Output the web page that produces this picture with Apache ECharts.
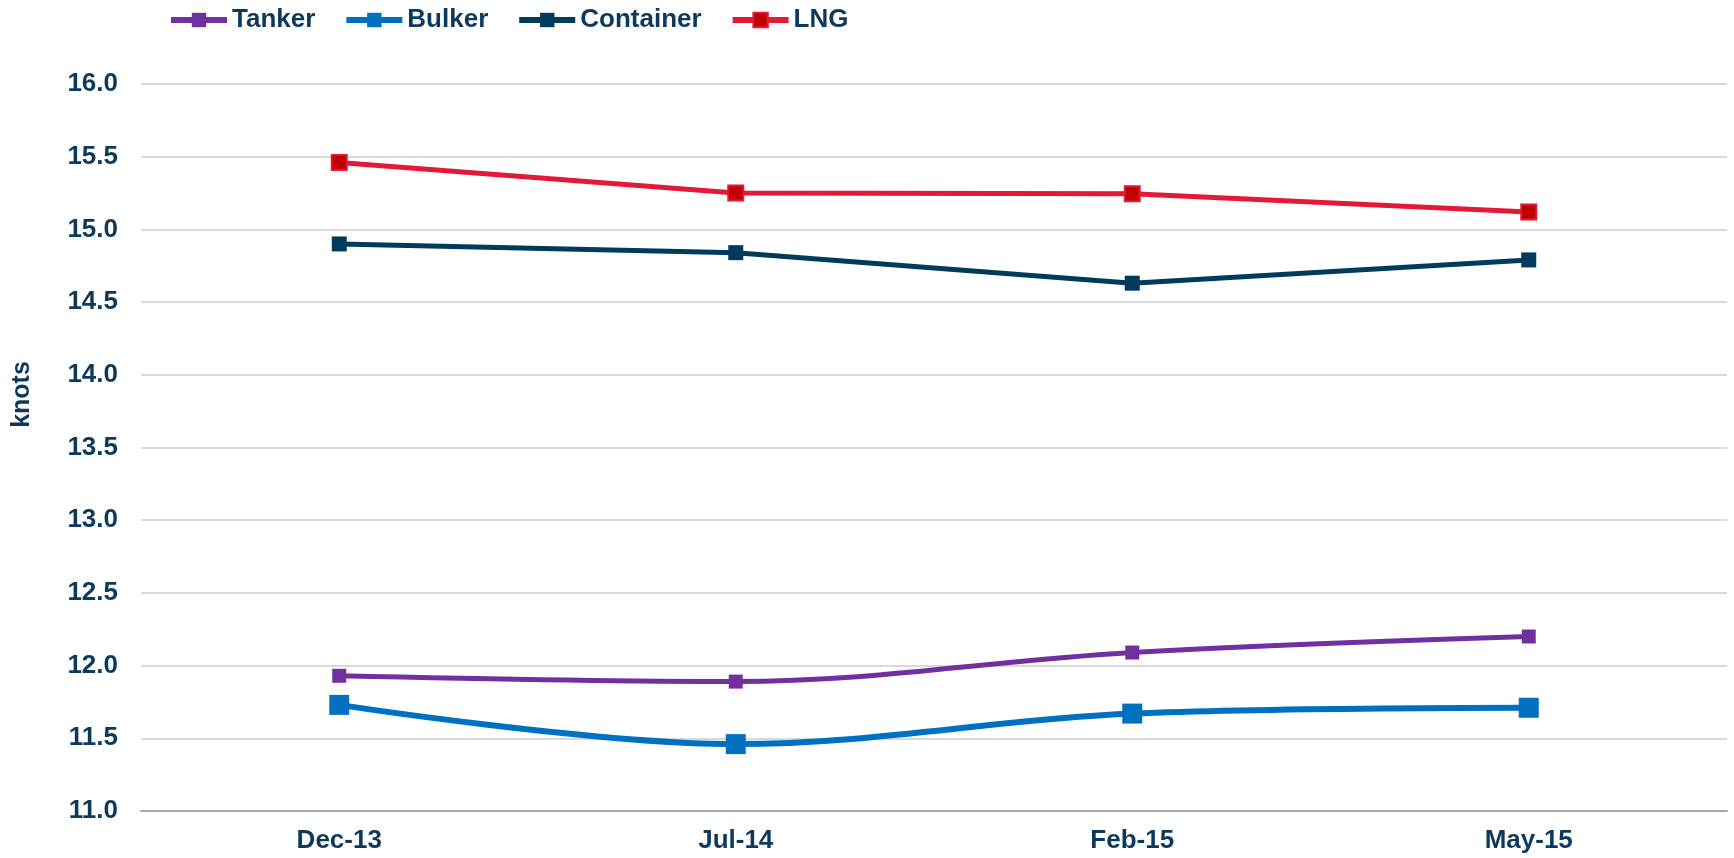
<!DOCTYPE html>
<html>
<head>
<meta charset="utf-8">
<script src="https://cdn.jsdelivr.net/npm/echarts@6/dist/echarts.min.js"></script>
<style>
  html, body { margin: 0; padding: 0; background: #fff; }
  #chart { width: 1734px; height: 858px; }
</style>
</head>
<body>
<div id="chart"></div>
<script>
const categories = ["Dec-13", "Jul-14", "Feb-15", "May-15"];
const tanker = [11.93, 11.89, 12.09, 12.20];
const bulker = [11.73, 11.46, 11.67, 11.71];
const container = [14.90, 14.84, 14.63, 14.79];
const lng = [15.46, 15.25, 15.245, 15.12];

const textColor = "#0D3A5C";
const font = "Liberation Sans, Arial, sans-serif";

const chart = echarts.init(document.getElementById("chart"));
const option = {
  animation: false,
  textStyle: { fontFamily: font },
  legend: {
    left: 163,
    top: 2,
    itemWidth: 56,
    itemHeight: 18,
    itemGap: 28,
    lineStyle: { width: 6 },
    textStyle: { fontSize: 26, fontWeight: "bold", color: textColor, fontFamily: font }
  },
  grid: { left: 141, right: 7, top: 84, bottom: 47, containLabel: false, outerBoundsMode: "none" },
  xAxis: {
    type: "category",
    data: categories,
    boundaryGap: true,
    axisLine: { lineStyle: { color: "#A6A6A6", width: 2 } },
    axisTick: { show: false },
    axisLabel: { fontSize: 26, fontWeight: "bold", color: textColor, margin: 17 }
  },
  yAxis: {
    type: "value",
    min: 11,
    max: 16,
    interval: 0.5,
    name: "knots",
    nameLocation: "middle",
    nameRotate: 90,
    nameGap: 106,
    nameTextStyle: { fontSize: 25, fontWeight: "bold", color: textColor, padding: [0, 0, 0, 106] },
    axisLine: { show: false },
    axisTick: { show: false },
    splitLine: { lineStyle: { color: "#D9D9D9", width: 2 } },
    axisLabel: {
      fontSize: 26, fontWeight: "bold", color: textColor, margin: 23,
      formatter: v => v.toFixed(1)
    }
  },
  series: [
    {
      name: "Tanker", type: "line", data: tanker, smooth: 0.35,
      symbol: "rect", symbolSize: 14,
      lineStyle: { color: "#7030A0", width: 5 },
      itemStyle: { color: "#7030A0" }
    },
    {
      name: "Bulker", type: "line", data: bulker, smooth: 0.35,
      symbol: "rect", symbolSize: 20,
      lineStyle: { color: "#0070C0", width: 6 },
      itemStyle: { color: "#0070C0" }
    },
    {
      name: "Container", type: "line", data: container,
      symbol: "rect", symbolSize: 15,
      lineStyle: { color: "#003A5D", width: 5 },
      itemStyle: { color: "#003A5D" }
    },
    {
      name: "LNG", type: "line", data: lng,
      symbol: "rect", symbolSize: 15,
      lineStyle: { color: "#E31937", width: 5 },
      itemStyle: { color: "#C00000", borderColor: "#E31937", borderWidth: 2 }
    }
  ]
};
chart.setOption(option);
</script>
</body>
</html>
